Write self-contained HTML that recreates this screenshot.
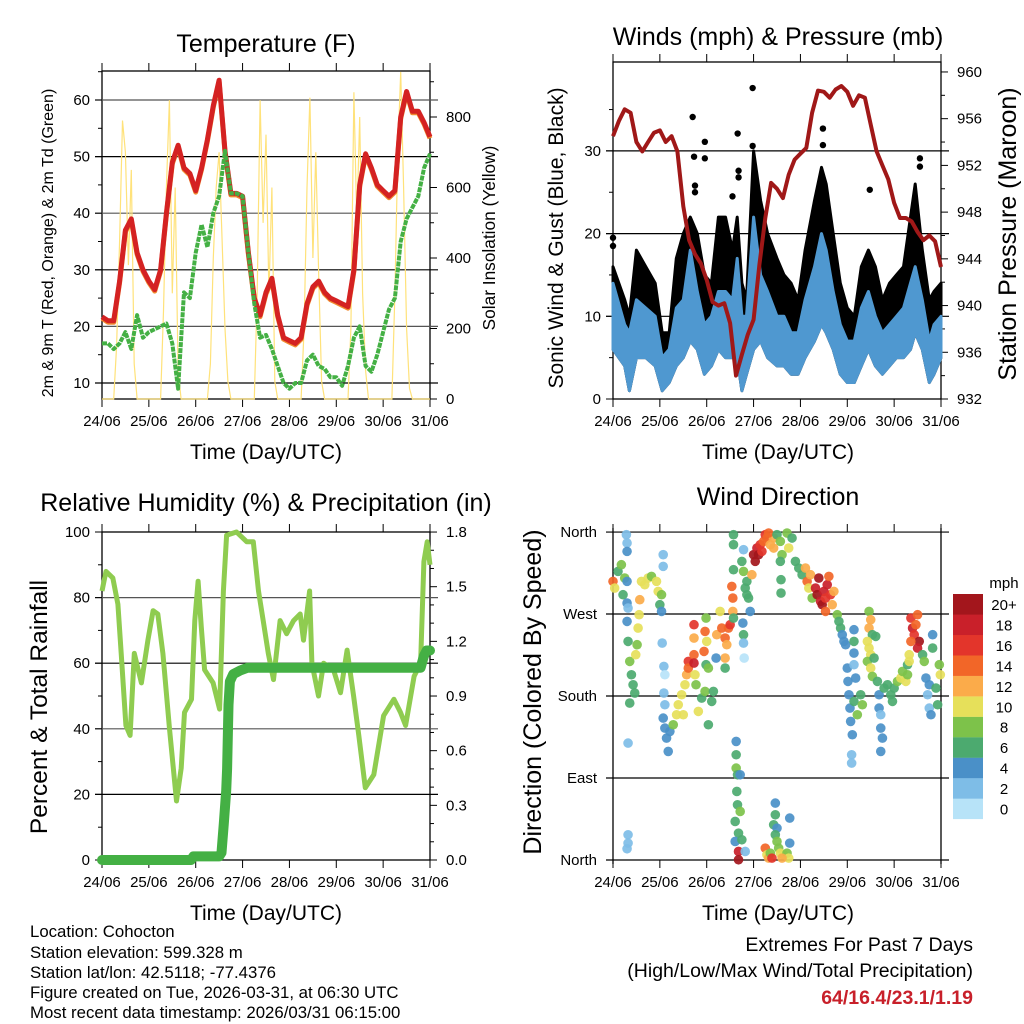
<!DOCTYPE html>
<html><head><meta charset="utf-8"><style>
html,body{margin:0;padding:0;background:#fff}
svg{display:block;font-family:"Liberation Sans",sans-serif}
</style></head><body>
<svg id="fig" width="1024" height="1024" viewBox="0 0 1024 1024" xmlns="http://www.w3.org/2000/svg">
<rect width="1024" height="1024" fill="#fff"/>
<g font-size="25" text-anchor="middle" fill="#000">
<text x="266" y="52">Temperature (F)</text>
<text x="778" y="45">Winds (mph) &amp; Pressure (mb)</text>
<text x="266" y="511">Relative Humidity (%) &amp; Precipitation (in)</text>
<text x="778" y="505">Wind Direction</text>
</g>
<g font-size="21" text-anchor="middle">
<text x="266" y="459">Time (Day/UTC)</text>
<text x="778" y="459">Time (Day/UTC)</text>
<text x="266" y="920">Time (Day/UTC)</text>
<text x="778" y="920">Time (Day/UTC)</text>
<text transform="translate(53,243) rotate(-90)" font-size="16">2m &amp; 9m T (Red, Orange) &amp; 2m Td (Green)</text>
<text transform="translate(495,238) rotate(-90)" font-size="17.3">Solar Insolation (Yellow)</text>
<text transform="translate(563,238) rotate(-90)">Sonic Wind &amp; Gust (Blue, Black)</text>
<text transform="translate(1016,234) rotate(-90)" font-size="25">Station Pressure (Maroon)</text>
<text transform="translate(47,707) rotate(-90)" font-size="24.5">Percent &amp; Total Rainfall</text>
<text transform="translate(541,692) rotate(-90)" font-size="25">Direction (Colored By Speed)</text>
</g>
<g font-size="16.8" fill="#000">
<text x="30" y="937">Location: Cohocton</text>
<text x="30" y="958">Station elevation: 599.328 m</text>
<text x="30" y="978">Station lat/lon: 42.5118; -77.4376</text>
<text x="30" y="998">Figure created on Tue, 2026-03-31, at 06:30 UTC</text>
<text x="30" y="1018">Most recent data timestamp: 2026/03/31 06:15:00</text>
</g>
<g font-size="19.5" text-anchor="end">
<text x="973" y="951">Extremes For Past 7 Days</text>
<text x="973" y="977">(High/Low/Max Wind/Total Precipitation)</text>
<text x="973" y="1004" fill="#c8202a" font-weight="bold">64/16.4/23.1/1.19</text>
</g>
<g id="layer"></g>
</svg>
<script>
// ---------- data ----------
const dayLabels=["24/06","25/06","26/06","27/06","28/06","29/06","30/06","31/06"];
const sampleStepDays=0.125;
const tempF=[21.7,21,21,28,37,39,33,30,28,26.5,30,40,49,52,48,47,44,48,53,59,63.5,51,43.5,43.5,43,33,25,22,26,28.5,22,18,17.5,17,18,24,27,28,26,25,24.5,24,23.5,30,45,50.5,48,45,44,43,44,57,61.5,58,58,56,53.5];
const dewF=[17,17,16,17,19,16,22,18,19,19.5,20,20.5,17,9,26,25,33,38,34,40,43,51,43.5,43.5,43,33,24,18,18.5,16,13,10,9,10,10,14,15,13,12.5,11,11,9.5,13,18,20,13,12,15,19,23,25,35,39,41,43,48,50.5];
const solarStepDays=0.0625;
const solar=[0,0,0,0,0,150,450,790,700,380,650,100,0,0,0,0,
0,0,0,0,0,250,600,848,300,600,80,0,0,0,0,0,
0,0,0,0,0,100,400,600,700,450,200,50,0,0,0,0,
0,0,0,0,0,300,848,500,750,300,600,50,0,0,0,0,
0,0,0,0,0,200,600,855,400,700,350,50,0,0,0,0,
0,0,0,0,0,200,870,500,800,300,80,0,0,0,0,0,
0,0,0,0,300,700,928,600,200,30,0,0,0,0,0,0,0];
const tempTicks=[10,20,30,40,50,60];
const solarTicks=[0,200,400,600,800];
const pressure=[954.5,955.8,956.8,956.5,954,953.2,954,954.8,955,954,954.5,953.2,948.5,945.6,944.4,943.6,942.2,940.3,940,940.2,938.5,934,935.8,937.5,938.8,943.5,947.5,950.5,950,949.2,951.2,952.5,953,953.5,956.5,958.4,958.3,957.8,958.5,958.8,958.3,957.1,958,957.8,955.5,953.2,952,950.8,948.8,947.5,947.5,947.2,946.3,945.6,946,945.5,943.3];
const windDays=[0,.25,.35,.5,.7,.9,1.05,1.2,1.35,1.5,1.65,1.8,1.95,2.1,2.25,2.4,2.55,2.65,2.75,2.85,3.0,3.15,3.3,3.5,3.65,3.8,3.95,4.1,4.3,4.45,4.55,4.7,4.85,5.0,5.15,5.3,5.45,5.6,5.75,5.9,6.05,6.2,6.35,6.45,6.6,6.75,6.85,7.0];
const windLo=[6,4,1,5,5,4,1,2,4,5,7,6,3,4,6,5,5,5,1,3,6,7,5,4,4,3,3,5,7,9,8,6,3,2,2,4,6,4,3,4,5,5,6,8,6,2,3,5];
const windHi=[14,9,8,12,11,10,5,6,11,12,18,13,9,10,13,13,12,17,10,10,22,15,13,10,10,8,8,12,16,20,18,13,9,7,7,11,13,10,8,9,10,11,14,16,12,7,9,10];
const gustHi=[16,12,10,18,16,14,8,8,17,20,22,20,15,14,22,22,18,22,14,12,30,24,20,17,15,14,12,18,24,28,26,20,14,11,10,16,18,16,12,14,15,16,22,26,18,12,13,14];
const gustOutDays=[1.7,1.73,1.96,1.96,2.66,2.98,2.98,4.48,4.48,5.48,6.55,6.55,1.75,1.75,2.55,2.68,2.68,0.0,0.0];
const gustOutMph=[34.1,29.3,31.1,29.1,32.1,37.6,30.6,32.7,30.7,25.3,29.1,28.1,25.8,25,24.5,27.6,26.8,19.5,18.5];
const windTicks=[0,10,20,30];
const pressTicks=[932,936,940,944,948,952,956,960];
const rhDays=[0,.086,.23,.34,.41,.51,.6,.69,.84,.98,1.09,1.19,1.3,1.44,1.59,1.69,1.76,1.91,1.98,2.05,2.12,2.19,2.37,2.51,2.59,2.66,2.87,3.09,3.23,3.34,3.44,3.55,3.66,3.8,3.94,4.09,4.23,4.3,4.43,4.48,4.62,4.73,4.94,5.09,5.23,5.37,5.48,5.62,5.8,6.01,6.23,6.37,6.48,6.66,6.8,6.87,6.94,7.0];
const rhPct=[82,88,86,78,63,41,38,63,54,67,76,75,63,40,18,28,45,49,73,85,71,58,54,46,82,99,100,97,97,82,73,63,55,73,69,73,75,67,82,60,50,60,58,51,64,50,38,22,26,44,49,45,41,56,60,91,97,90];
const precipDays=[0,1.9,1.95,2.5,2.55,2.6,2.65,2.67,2.7,2.73,2.8,2.95,3.1,6.8,6.87,6.93,7];
const precipIn=[0,0,0.02,0.02,0.04,0.2,0.38,0.5,0.85,0.98,1.02,1.04,1.055,1.055,1.12,1.15,1.15];
const rhTicks=[0,20,40,60,80,100];
const precipTicks=["0.0","0.3","0.6","0.9","1.2","1.5","1.8"];
const dirLabels=["North","East","South","West","North"];
const speedLabels=["0","2","4","6","8","10","12","14","16","18","20+"];
const speedColors=["#b7e3f8","#7ebde7","#4a90c8","#4caa6f","#7dc24a","#e6e05a","#fbab4a","#f26628","#e3352b","#c9202a","#a3161c"];
const dirObs=[[20,160,14],[25,180,10],[35,130,6],[45,110,8],[50,200,6],[55,150,8],[60,20,2],[62,45,2],[62,70,4],[62,160,4],[62,225,4],[65,240,2],[62,280,4],[65,340,6],[70,400,8],[75,440,6],[80,470,6],[85,495,6],[70,525,6],[65,645,2],[100,215,12],[98,260,10],[95,300,10],[92,350,8],[88,380,10],[105,160,10],[115,170,10],[125,150,10],[135,145,8],[150,160,10],[155,190,10],[160,230,6],[165,250,4],[165,200,8],[170,80,2],[170,115,2],[167,345,2],[172,415,2],[175,440,0],[172,495,2],[175,530,2],[170,570,4],[175,600,4],[180,630,4],[185,670,4],[190,610,4],[200,590,8],[210,560,10],[215,530,10],[225,500,10],[230,560,10],[235,470,10],[240,440,12],[245,400,16],[245,420,14],[262,290,16],[262,330,12],[262,380,14],[262,405,18],[265,440,10],[268,470,8],[275,550,10],[285,510,6],[295,490,8],[305,590,6],[315,520,6],[320,490,6],[298,270,8],[295,310,14],[300,340,10],[292,370,14],[298,410,6],[305,420,8],[330,320,12],[340,250,10],[345,300,14],[355,330,14],[360,350,12],[365,300,14],[370,290,16],[355,390,12],[355,420,6],[328,390,4],[380,20,6],[380,50,6],[380,125,6],[375,175,14],[378,210,14],[378,250,12],[380,270,6],[388,640,4],[388,680,6],[388,720,8],[392,740,6],[400,740,4],[390,790,6],[392,830,6],[400,850,8],[385,880,6],[395,915,6],[385,940,4],[405,935,6],[395,970,18],[395,995,20],[415,970,2],[410,65,2],[408,285,4],[410,320,6],[410,345,2],[412,390,0],[405,100,6],[410,130,8],[420,160,6],[420,200,6],[430,250,4],[435,140,12],[415,180,6],[425,210,6],[440,80,20],[445,100,20],[450,60,18],[455,80,20],[460,50,16],[465,70,16],[470,40,14],[475,20,16],[480,30,14],[490,50,12],[500,30,12],[485,15,14],[500,60,12],[510,20,6],[520,40,8],[525,80,8],[540,15,8],[545,60,10],[555,30,6],[520,100,6],[522,155,6],[522,195,6],[565,100,6],[575,120,6],[585,140,6],[595,120,12],[600,160,14],[605,180,10],[615,210,8],[610,140,12],[625,180,18],[630,200,20],[635,150,20],[640,220,18],[645,230,20],[650,190,18],[655,210,16],[660,170,18],[665,145,14],[670,200,16],[655,250,14],[680,190,12],[675,230,12],[690,260,8],[695,280,6],[700,300,6],[705,320,4],[710,340,4],[715,350,4],[720,420,4],[722,460,4],[725,500,4],[728,540,4],[730,580,4],[735,620,4],[740,520,6],[745,450,4],[750,560,8],[760,500,6],[765,530,8],[740,305,4],[740,340,6],[740,375,4],[740,410,2],[733,680,2],[733,705,2],[785,250,8],[790,275,12],[785,300,12],[795,320,6],[780,340,10],[785,360,10],[790,380,10],[780,400,8],[790,420,10],[795,445,8],[805,325,6],[800,390,6],[810,460,6],[815,500,4],[815,540,4],[820,560,2],[820,600,4],[825,630,4],[820,670,4],[830,480,6],[840,470,6],[850,500,6],[855,520,6],[860,480,6],[870,460,8],[880,450,10],[885,430,8],[895,460,10],[900,440,8],[900,410,6],[910,270,16],[915,300,18],[920,320,16],[925,290,14],[930,260,14],[935,340,20],[930,360,18],[910,340,14],[905,380,10],[905,400,10],[945,380,6],[950,400,8],[955,450,4],[965,470,4],[960,500,2],[965,540,2],[970,560,4],[975,320,4],[975,360,6],[985,480,6],[990,530,6],[995,410,8],[998,440,10],[65,920,2],[65,945,2],[62,962,2],[505,825,4],[505,860,6],[500,890,6],[510,900,4],[505,920,6],[510,940,8],[515,960,8],[520,975,10],[530,980,10],[540,975,8],[545,990,10],[548,870,4],[548,945,4],[475,960,14],[480,980,10],[485,990,12],[490,975,8],[495,990,16],[525,990,12]];
const dirDays=dirObs.map(o=>(o[0]-20)/140);
const dirDeg=dirObs.map(o=>Math.max(0,Math.min(360,364.4-o[1]*0.366)));
const dirSpeed=dirObs.map(o=>o[2]);

// ---------- scales ----------
const NS="http://www.w3.org/2000/svg";
const layer=document.getElementById('layer');
function mk(tag,attrs,parent){const e=document.createElementNS(NS,tag);for(const k in attrs)e.setAttribute(k,attrs[k]);(parent||layer).appendChild(e);return e;}
const P1={x0:102,x1:430,y0:71,y1:399},P2={x0:613,x1:941,y0:62,y1:399},P3={x0:102,x1:430,y0:532,y1:860},P4={x0:613,x1:941,y0:532,y1:860};
const xDay=(P,d)=>P.x0+d/7*(P.x1-P.x0);
const yT=v=>383-(v-10)*5.66, yS=v=>399-v*0.3525;
const yW=v=>399-v*8.27, yP=v=>399-(v-932)*11.68;
const yRH=v=>860-v*3.28, yPr=v=>860-v*182.2;
const yDir=v=>860-v*0.911;
function path(pts){return pts.map((p,i)=>(i?'L':'M')+p[0].toFixed(1)+','+p[1].toFixed(1)).join('');}

function frame(P,name,box){
  const g=mk('g',{});
  
  
  if(box){const r=mk('rect',{x:P.x0,y:P.y0,width:P.x1-P.x0,height:P.y1-P.y0,fill:'none',stroke:'#000','stroke-width':1.3},g);
  
  }
  else{
    const l=mk('path',{d:`M${P.x0},${P.y0-4}V${P.y1+4}M${P.x1},${P.y0-4}V${P.y1+4}`,stroke:'#000','stroke-width':1.3,fill:'none'},g);
    
    
  }
  dayLabels.forEach((lab,i)=>{
    const x=xDay(P,i);
    const t=mk('path',{d:`M${x},${P.y1}V${P.y1+8}M${x},${P.y0}V${P.y0-8}`,stroke:'#000','stroke-width':1},g);
    
    
    const tx=mk('text',{x:x,y:P.y1+27,'font-size':15,'text-anchor':'middle'},g);
    tx.textContent=lab;
    
    
  });
  return g;
}
function grid(P,y,g,strong){
  const l=mk('line',{x1:P.x0-7,x2:P.x1+8,y1:y,y2:y,stroke:strong?'#000':'#555','stroke-width':1.2},g);
  
  
}
function leftTick(P,y,label,g,minor){
  const t=mk('line',{x1:P.x0,x2:P.x0-(minor?4:7),y1:y,y2:y,stroke:'#000'},g);
  
  
  if(label!==null){const tx=mk('text',{x:P.x0-12,y:y+5,'font-size':15,'text-anchor':'end'},g);tx.textContent=label;
  
  }
}
function rightTick(P,y,label,g,minor){
  const t=mk('line',{x1:P.x1,x2:P.x1+(minor?4:7),y1:y,y2:y,stroke:'#000'},g);
  
  
  if(label!==null){const tx=mk('text',{x:P.x1+16,y:y+5,'font-size':15},g);tx.textContent=label;
  
  }
}

// ---------- Panel 1 temperature ----------
const g1=frame(P1,'temperature',true);
tempTicks.forEach(v=>{grid(P1,yT(v),g1,v%20!==0);leftTick(P1,yT(v),String(v),g1);});
[15,25,35,45,55,65].forEach(v=>leftTick(P1,yT(v),null,g1,true));
solarTicks.forEach(v=>rightTick(P1,yS(v),String(v),g1));
[100,300,500,700,900].forEach(v=>rightTick(P1,yS(v),null,g1,true));
const solarLine=mk('path',{d:path(solar.map((v,i)=>[xDay(P1,i*solarStepDays),yS(v)])),fill:'none',stroke:'#ffe27a','stroke-width':1.2});


const t9=mk('path',{d:path(tempF.map((v,i)=>[xDay(P1,i*sampleStepDays),yT(v)+1.5])),fill:'none',stroke:'#f08a30','stroke-width':5,'stroke-linejoin':'round'});


const t2=mk('path',{d:path(tempF.map((v,i)=>[xDay(P1,i*sampleStepDays),yT(v)])),fill:'none',stroke:'#d42222','stroke-width':5,'stroke-linejoin':'round'});


const td=mk('path',{d:path(dewF.map((v,i)=>[xDay(P1,i*sampleStepDays),yT(v)])),fill:'none',stroke:'#44b044','stroke-width':4,'stroke-dasharray':'5 1','stroke-linejoin':'round'});



// ---------- Panel 2 winds ----------
const g2=frame(P2,'winds',true);
windTicks.forEach(v=>{if(v>0)grid(P2,yW(v),g2,true);leftTick(P2,yW(v),String(v),g2);});
[5,15,25,35].forEach(v=>leftTick(P2,yW(v),null,g2,true));
pressTicks.forEach(v=>rightTick(P2,yP(v),String(v),g2));
[934,938,942,946,950,954,958].forEach(v=>rightTick(P2,yP(v),null,g2,true));
const gustBand=mk('path',{d:path(windDays.map((d,i)=>[xDay(P2,d),yW(gustHi[i])]).concat(windDays.map((d,i)=>[xDay(P2,d),yW(windLo[i])]).reverse()))+'Z',fill:'#000',stroke:'#000','stroke-width':3,'stroke-linejoin':'round'});


gustOutDays.forEach((d,i)=>{const c=mk('circle',{cx:xDay(P2,d),cy:yW(gustOutMph[i]),r:3.2,fill:'#000'});

});
const windBand=mk('path',{d:path(windDays.map((d,i)=>[xDay(P2,d),yW(windHi[i])]).concat(windDays.map((d,i)=>[xDay(P2,d),yW(windLo[i])]).reverse()))+'Z',fill:'#4f98d0',stroke:'#4f98d0','stroke-width':3,'stroke-linejoin':'round'});


const pl=mk('path',{d:path(pressure.map((v,i)=>[xDay(P2,i*sampleStepDays),yP(v)])),fill:'none',stroke:'#a01818','stroke-width':4,'stroke-linejoin':'round'});



// ---------- Panel 3 RH ----------
const g3=frame(P3,'humidity',true);
rhTicks.forEach(v=>{if(v>0&&v<100)grid(P3,yRH(v),g3,v%40!==0);leftTick(P3,yRH(v),String(v),g3);});
[10,30,50,70,90].forEach(v=>leftTick(P3,yRH(v),null,g3,true));
precipTicks.forEach(s=>rightTick(P3,yPr(parseFloat(s)),s,g3));
[0.1,0.2,0.4,0.5,0.7,0.8,1.0,1.1,1.3,1.4,1.6,1.7].forEach(v=>rightTick(P3,yPr(v),null,g3,true));
const rhl=mk('path',{d:path(rhDays.map((d,i)=>[xDay(P3,d),yRH(rhPct[i])])),fill:'none',stroke:'#8fcc50','stroke-width':5,'stroke-linejoin':'round'});


const prl=mk('path',{d:path(precipDays.map((d,i)=>[xDay(P3,d),yPr(precipIn[i])])),fill:'none',stroke:'#44b044','stroke-width':10,'stroke-linecap':'round','stroke-linejoin':'round'});



// ---------- Panel 4 direction ----------
const g4=frame(P4,'wind-direction',false);
dirLabels.forEach((lab,i)=>{const y=yDir(i*90);grid(P4,y,g4,true);
  const tx=mk('text',{x:P4.x0-16,y:y+5,'font-size':15,'text-anchor':'end'},g4);tx.textContent=lab;
  
  });
dirDays.forEach((d,i)=>{const c=mk('circle',{cx:xDay(P4,d),cy:yDir(dirDeg[i]),r:4.8,fill:speedColors[Math.min(10,Math.round(dirSpeed[i]/2))],'fill-opacity':0.92});

});
// colorbar
const cb=mk('g',{});


const mph=mk('text',{x:1004,y:588,'font-size':15,'text-anchor':'middle'},cb);mph.textContent='mph';


speedLabels.forEach((lab,i)=>{const j=10-i;const y=594+j*20.45;
  const r=mk('rect',{x:953,y:y,width:30,height:20.6,fill:speedColors[i]},cb);
  
  
  const t=mk('text',{x:1004,y:y+16,'font-size':15,'text-anchor':'middle'},cb);t.textContent=lab;
  
  });
</script>
</body></html>
